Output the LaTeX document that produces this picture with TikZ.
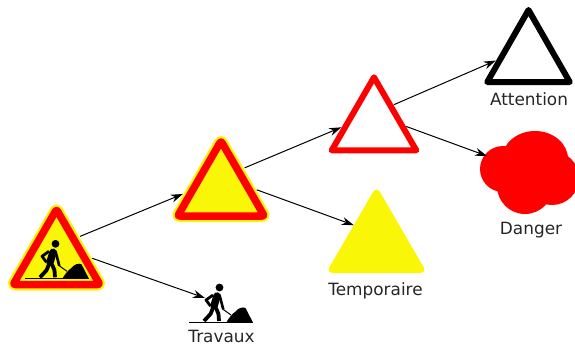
\documentclass[tikz,border=0pt]{standalone}
\usepackage{fontspec}
\setmainfont{DejaVu Sans}
\usetikzlibrary{shapes.geometric,arrows.meta,calc}
\definecolor{signyellow}{RGB}{250,246,8}
\tikzset{
  tri/.style={isosceles triangle, isosceles triangle stretches, shape border rotate=90,
    inner sep=0, anchor=lower side, line join=round, rounded corners=#1},
  tri/.default=0,
  halo/.style={tri=2, minimum width=86.6, minimum height=75, draw=signyellow, line width=12, outer sep=6},
  redsign/.style={tri=2, minimum width=86.6, minimum height=75, draw=red, fill=signyellow, line width=7.5, outer sep=6},
  conn/.style={-{Stealth[length=12,width=8]}, line width=1},
  lbl/.style={font=\fontsize{16.9}{18}\selectfont, text=black!85},
  worker/.pic={
    \draw[line width=1] (0,0) -- (64,0);
    \fill (30.5,-34.5) circle (3.9);
    \draw[line width=7.5, line cap=round] (28,-26) -- (25,-16);
    \draw[line width=2.8, line join=round] (24,-27) -- (17,-22) -- (21.5,-16);
    \draw[line width=3.8, line join=round] (24,-14) -- (21.5,-8) -- (15,-1);
    \draw[line width=3.8, line join=round] (27,-14) -- (29.5,-8) -- (30,-1);
    \draw[line width=2.6] (30.5,-27) -- (34.3,-12.5);
    \draw[line width=1] (34.3,-12.5) -- (42,-7);
    \fill (37.5,0) .. controls (40,-4) and (43,-8) .. (46,-10) .. controls (49,-14) and (54,-15.5) .. (56.5,-14) -- (63.7,0) -- cycle;
  }
}
\begin{document}
\begin{tikzpicture}[x=1pt,y=-1pt]
  \useasboundingbox (0,0) rectangle (575,349);

  % danger blob
  \begin{scope}
    \clip (0,0) rectangle (575,349);
    \fill[red] (503,169) circle (23);
    \fill[red] (525,186) circle (28);
    \fill[red] (552,178) circle (27);
    \fill[red] (535,159) ellipse (33 and 28);
  \end{scope}
  \coordinate (dangertip) at (487,156);
  \node[lbl] (danger) at (531,230.5) {Danger};

  % signs
  \node[halo] at (56.5,290.5) {};
  \node[redsign] (travauxsign) at (56.5,290.5) {};
  \pic at (25,278.3) {worker};

  \node[halo] at (221,222) {};
  \node[redsign] (tempsign) at (221,222) {};

  \node[tri, minimum width=84.5, minimum height=73, draw=red, line width=6, outer sep=3] (dangersign) at (374,153.3) {};
  \node[tri, minimum width=82.5, minimum height=72, draw=black, line width=6, outer sep=3] (attention) at (528.5,85) {};
  \node[tri=7, minimum width=101, minimum height=87, fill=signyellow, outer sep=0] (temporaire) at (376.5,273) {};

  \pic at (189,322) {worker};
  \coordinate (worktip) at (205,298);

  \node[lbl] (attentionlbl) at (529,99) {Attention};
  \node[lbl] (temporairelbl) at (375.5,290.5) {Temporaire};
  \node[lbl] (travauxlbl) at (221.5,336) {Travaux};

  % arrows
  \draw[conn] ($(travauxsign.apex)!0.44!(travauxsign.right corner)$) -- ($(tempsign.apex)!0.71!(tempsign.left corner)$);
  \draw[conn] ($(travauxsign.apex)!0.667!(travauxsign.right corner)$) -- (worktip);
  \draw[conn] ($(tempsign.apex)!0.44!(tempsign.right corner)$) -- ($(dangersign.apex)!0.69!(dangersign.left corner)$);
  \draw[conn] ($(tempsign.apex)!0.667!(tempsign.right corner)$) -- ($(temporaire.apex)!0.45!(temporaire.left corner)$);
  \draw[conn] ($(dangersign.apex)!0.42!(dangersign.right corner)$) -- ($(attention.apex)!0.705!(attention.left corner)$);
  \draw[conn] ($(dangersign.apex)!0.68!(dangersign.right corner)$) -- (dangertip);
\end{tikzpicture}
\end{document}
